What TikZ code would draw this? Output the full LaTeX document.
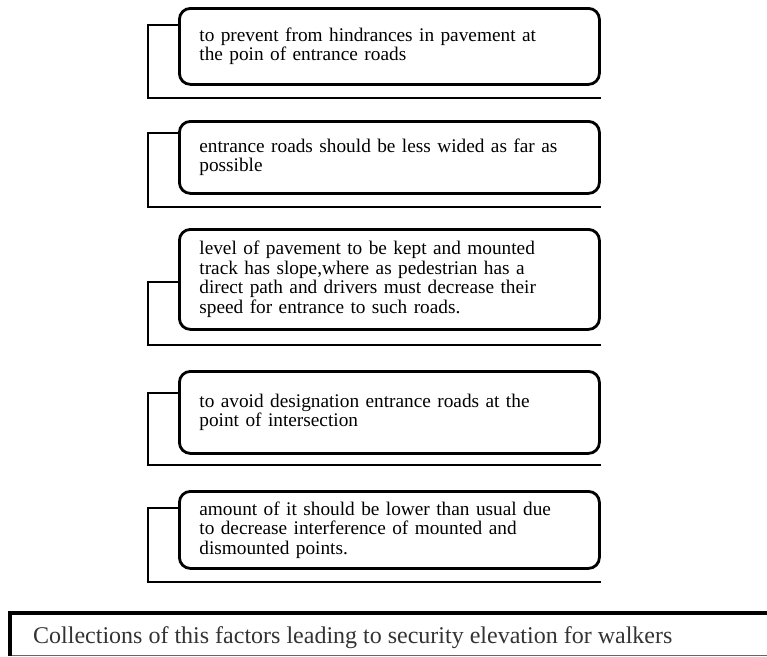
\documentclass[tikz,border=0pt]{standalone}
\usepackage{fontspec}
\setmainfont{Liberation Serif}
\usetikzlibrary{calc}
\begin{document}
\begin{tikzpicture}[x=1pt,y=-1pt,
  factor/.style={draw, line width=2.8pt, rounded corners=11pt, minimum width=420pt,
    text width=380pt, inner xsep=20pt, inner ysep=0pt, align=left, anchor=north west,
    font=\fontsize{19.3}{19.5}\selectfont},
  bracket/.style={line width=2.8pt}]
\useasboundingbox (0,0) rectangle (767,656);
% factor boxes
\node[factor, minimum height=76pt] (b1) at (178,7)
  {to prevent from hindrances in pavement at\\the poin of entrance roads};
\node[factor, minimum height=72pt] (b2) at (178,120)
  {entrance roads should be less wided as far as\\possible};
\node[factor, minimum height=100pt] (b3) at (178,228)
  {level of pavement to be kept and mounted\\track has slope,where as pedestrian has a\\direct path and drivers must decrease their\\speed for entrance to such roads.};
\node[factor, minimum height=82pt] (b4) at (178,370)
  {to avoid designation entrance roads at the\\point of intersection};
\node[factor, minimum height=77pt] (b5) at (178,490)
  {amount of it should be lower than usual due\\to decrease interference of mounted and\\dismounted points.};
% bracket corners
\coordinate (k1) at (148,98);
\coordinate (k2) at (148,207);
\coordinate (k3) at (148,345);
\coordinate (k4) at (148,465);
\coordinate (k5) at (148,582);
\draw[bracket] ($(b1.north west)+(0,18)$) -| (k1) -- (k1 -| b1.east);
\draw[bracket] ($(b2.north west)+(0,13)$) -| (k2) -- (k2 -| b2.east);
\draw[bracket] ($(b3.north west)+(0,54)$) -| (k3) -- (k3 -| b3.east);
\draw[bracket] ($(b4.north west)+(0,23)$) -| (k4) -- (k4 -| b4.east);
\draw[bracket] ($(b5.north west)+(0,18)$) -| (k5) -- (k5 -| b5.east);
% conclusion
\node[anchor=base west, inner sep=0pt, font=\fontsize{24}{28}\selectfont, text=black!80] (c) at (33,643)
  {Collections of this factors leading to security elevation for walkers};
\coordinate (ctl) at (8,613);
\coordinate (ctr) at (767,613);
\coordinate (cbl) at (8,655);
\coordinate (cbr) at (767,655);
\draw[black!60, line width=0.8pt] (cbl) -- (cbr);
\draw[line width=4pt] (ctl) -- (ctr);
\draw[line width=4.5pt] ($(ctl)+(2,-2)$) -- ($(cbl)+(2,1)$);
\end{tikzpicture}
\end{document}
